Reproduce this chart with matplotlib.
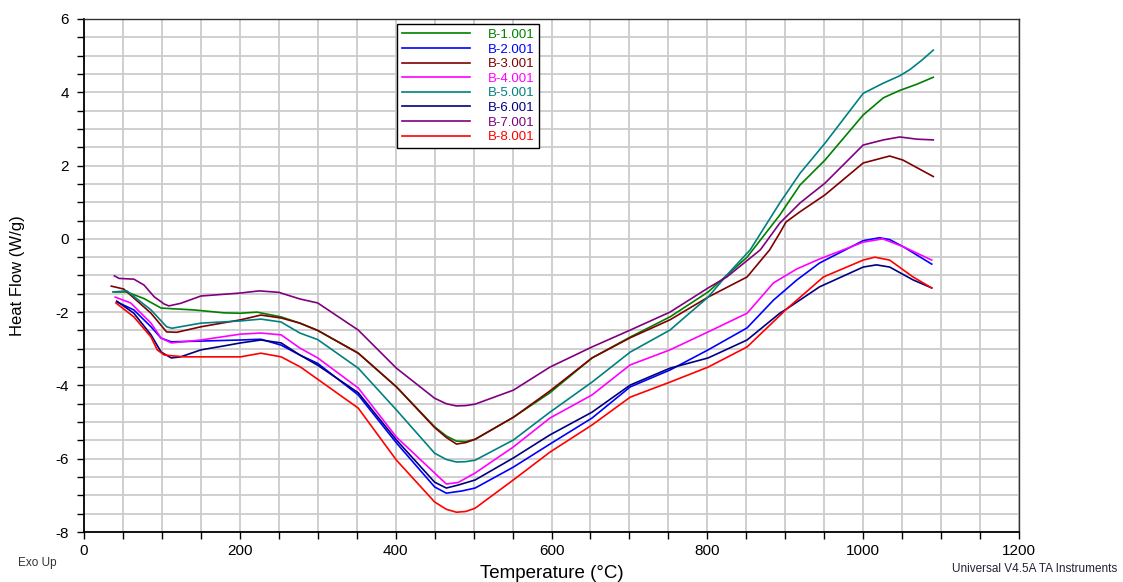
#!/usr/bin/env python3
import matplotlib
matplotlib.use("Agg")
import matplotlib.pyplot as plt
from matplotlib.ticker import MultipleLocator

plt.rcParams["font.family"] = ["Liberation Sans", "DejaVu Sans"]
plt.rcParams["axes.unicode_minus"] = False

labels = ["B-1.001", "B-2.001", "B-3.001", "B-4.001",
          "B-5.001", "B-6.001", "B-7.001", "B-8.001"]
colors = ["#008000", "#0000ff", "#800000", "#ff00ff",
          "#008080", "#000080", "#800080", "#ff0000"]

t1 = [39, 55, 77, 99, 141, 180, 201, 222, 253, 277, 300, 352, 401, 450, 465, 478, 490,
      502, 551, 598, 652, 701, 752, 801, 851, 893, 919, 951, 1000, 1026, 1047, 1069, 1090]
h1 = [-1.45, -1.45, -1.63, -1.89, -1.94, -2.02, -2.03, -2.0, -2.13, -2.30, -2.5, -3.12,
      -4.04, -5.13, -5.38, -5.52, -5.53, -5.47, -4.87, -4.2, -3.25, -2.68, -2.13, -1.45,
      -0.5, 0.65, 1.47, 2.15, 3.38, 3.85, 4.05, 4.22, 4.41]

t2 = [42, 64, 86, 99, 112, 150, 201, 227, 253, 277, 300, 352, 401, 450, 465, 485, 502,
      551, 598, 652, 701, 752, 801, 851, 885, 915, 944, 1000, 1021, 1034, 1051, 1088]
h2 = [-1.72, -1.94, -2.40, -2.71, -2.81, -2.79, -2.76, -2.74, -2.9, -3.17, -3.4, -4.26,
      -5.57, -6.77, -6.94, -6.88, -6.80, -6.23, -5.6, -4.89, -4.04, -3.58, -3.03, -2.43,
      -1.67, -1.12, -0.66, -0.05, 0.03, -0.02, -0.21, -0.69]

t3 = [35, 51, 86, 106, 119, 150, 201, 227, 253, 277, 300, 352, 401, 450, 465, 478, 490,
      502, 551, 598, 652, 701, 752, 801, 851, 880, 893, 901, 919, 951, 1000, 1034, 1051,
      1090]
h3 = [-1.29, -1.37, -2.03, -2.54, -2.55, -2.4, -2.21, -2.08, -2.16, -2.30, -2.5, -3.12,
      -4.04, -5.15, -5.42, -5.60, -5.56, -5.47, -4.87, -4.15, -3.25, -2.70, -2.21, -1.59,
      -1.04, -0.3, 0.16, 0.46, 0.74, 1.2, 2.07, 2.26, 2.15, 1.7]

t4 = [40, 60, 86, 99, 112, 150, 201, 227, 253, 277, 300, 352, 401, 450, 465, 480, 502,
      551, 598, 652, 701, 752, 801, 851, 885, 915, 944, 1000, 1025, 1051, 1088]
h4 = [-1.59, -1.75, -2.30, -2.71, -2.84, -2.76, -2.60, -2.57, -2.62, -2.98, -3.25, -4.07,
      -5.41, -6.39, -6.69, -6.65, -6.39, -5.68, -4.89, -4.26, -3.44, -3.03, -2.54, -2.03,
      -1.2, -0.82, -0.55, -0.09, 0.0, -0.21, -0.58]

t5 = [37, 55, 86, 106, 113, 150, 201, 227, 253, 277, 300, 352, 401, 450, 465, 478, 490,
      502, 551, 598, 652, 701, 752, 801, 825, 855, 893, 919, 951, 1000, 1026, 1047, 1060,
      1075, 1090]
h5 = [-1.45, -1.42, -1.94, -2.40, -2.44, -2.30, -2.24, -2.19, -2.27, -2.57, -2.75, -3.53,
      -4.67, -5.85, -6.02, -6.09, -6.08, -6.04, -5.49, -4.73, -3.91, -3.09, -2.49, -1.59,
      -0.99, -0.3, 0.98, 1.79, 2.61, 3.97, 4.25, 4.45, 4.62, 4.87, 5.15]

t6 = [42, 64, 86, 99, 112, 124, 150, 180, 201, 227, 253, 277, 300, 352, 401, 450, 465,
      480, 502, 551, 598, 652, 701, 752, 801, 851, 893, 902, 944, 1000, 1017, 1034, 1064,
      1088]
h6 = [-1.70, -2.03, -2.62, -3.09, -3.25, -3.22, -3.03, -2.92, -2.84, -2.76, -2.84, -3.17,
      -3.45, -4.2, -5.49, -6.64, -6.8, -6.72, -6.58, -5.98, -5.35, -4.73, -3.99, -3.53,
      -3.25, -2.76, -2.03, -1.91, -1.31, -0.77, -0.71, -0.77, -1.12, -1.34]

t7 = [39, 45, 64, 77, 90, 103, 109, 124, 150, 200, 225, 250, 277, 300, 352, 401, 450,
      465, 478, 490, 502, 551, 598, 652, 701, 752, 801, 825, 868, 893, 919, 951, 1000,
      1026, 1047, 1069, 1090]
h7 = [-1.01, -1.08, -1.10, -1.26, -1.58, -1.78, -1.83, -1.76, -1.56, -1.48, -1.42, -1.46,
      -1.64, -1.75, -2.49, -3.53, -4.35, -4.50, -4.56, -4.55, -4.51, -4.13, -3.5, -2.95,
      -2.49, -2.0, -1.34, -1.04, -0.3, 0.43, 0.98, 1.52, 2.56, 2.7, 2.78, 2.72, 2.70]

t8 = [41, 64, 86, 94, 103, 128, 171, 201, 227, 253, 278, 352, 401, 450, 465, 478, 490,
      502, 551, 598, 652, 701, 752, 801, 851, 902, 949, 1000, 1015, 1034, 1064, 1088]
h8 = [-1.75, -2.13, -2.68, -3.03, -3.17, -3.22, -3.22, -3.22, -3.12, -3.22, -3.5, -4.62,
      -6.04, -7.18, -7.38, -7.46, -7.44, -7.35, -6.58, -5.82, -5.08, -4.32, -3.91, -3.50,
      -2.95, -1.91, -1.04, -0.58, -0.5, -0.58, -1.04, -1.34]

temps = [t1, t2, t3, t4, t5, t6, t7, t8]
flows = [h1, h2, h3, h4, h5, h6, h7, h8]

fig = plt.figure(figsize=(11.23, 5.82), dpi=100)
ax = fig.add_axes([0.0748, 0.0859, 0.8326, 0.8815])

for t, h, c, lab in zip(temps, flows, colors, labels):
    ax.plot(t, h, color=c, lw=1.2, label=lab)

ax.set_xlim(0, 1200)
ax.set_ylim(-8, 6)
ax.xaxis.set_major_locator(MultipleLocator(200))
ax.xaxis.set_minor_locator(MultipleLocator(50))
ax.yaxis.set_major_locator(MultipleLocator(2))
ax.yaxis.set_minor_locator(MultipleLocator(0.5))
ax.grid(True, which="both", color="#cccccc", lw=1.3)
ax.set_axisbelow(True)
ax.tick_params(which="both", direction="out", length=5, width=1, color="black")
ax.tick_params(labelsize=11)
ax.tick_params(axis="y", pad=6)
for side in ["left", "bottom"]:
    ax.spines[side].set_linewidth(1.3)
for side in ["top", "right"]:
    ax.spines[side].set_linewidth(1.0)
    ax.spines[side].set_color("#333333")

ax.set_xlabel("Temperature (°C)", fontsize=13.5, labelpad=5)
ax.set_ylabel("Heat Flow (W/g)", fontsize=12, labelpad=22)

leg = ax.legend(loc="upper left", bbox_to_anchor=(0.335, 0.99), fontsize=9.5,
                frameon=True, fancybox=False, edgecolor="black", framealpha=1,
                handlelength=5.2, handletextpad=1.3, labelspacing=0.18,
                borderpad=0.35, borderaxespad=0)
leg.get_frame().set_linewidth(1.0)
for txt, c in zip(leg.get_texts(), colors):
    txt.set_color(c)

fig.text(18 / 1123, 1 - 563 / 582, "Exo Up", fontsize=8.5, color="#333333",
         ha="left", va="center")
fig.text(1117 / 1123, 1 - 569 / 582, "Universal V4.5A TA Instruments", fontsize=8.5,
         color="#222233", ha="right", va="center")

fig.savefig("out.png", dpi=100)
